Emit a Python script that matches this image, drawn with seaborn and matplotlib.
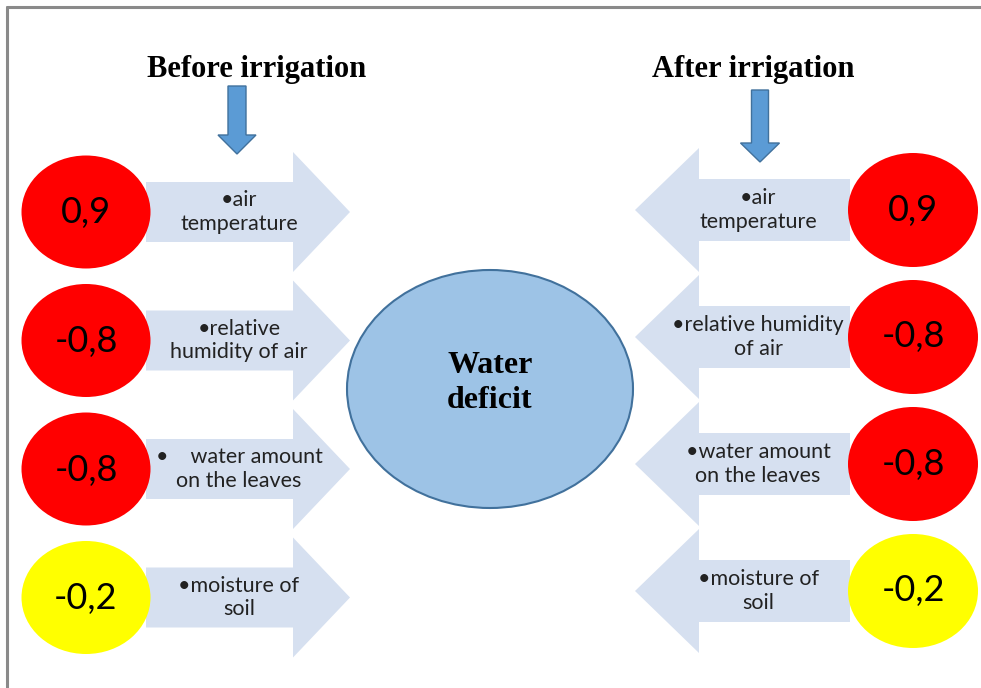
import matplotlib
matplotlib.use("Agg")
import matplotlib.pyplot as plt
from matplotlib.patches import Ellipse, Polygon
import seaborn as sns

# values
labels_before = ["•air\ntemperature", "•relative\nhumidity of air",
                 "•    water amount\non the leaves", "•moisture of\nsoil"]
labels_after = ["•air\ntemperature", "•relative humidity\nof air",
                "•water amount\non the leaves", "•moisture of\nsoil"]
r_before = [0.9, -0.8, -0.8, -0.2]
r_after = [0.9, -0.8, -0.8, -0.2]
titles = ["Before irrigation", "After irrigation"]
center_label = "Water\ndeficit"

sns.set_theme(style="white")
plt.rcParams['font.family'] = ['Lato', 'DejaVu Sans']

ARROW_FILL = "#d6e0f0"
BLUE = "#5b9bd5"
BLUE_EDGE = "#41719c"
SERIF = "Liberation Serif"


def fmt(v):
    return f"{v:.1f}".replace(".", ",")


def circle_color(v):
    return "#ff0000" if abs(v) >= 0.5 else "#ffff00"


def block_arrow(ax, yc, x_start, x_base, x_tip, hs, hh, **kw):
    pts = [(x_start, yc - hs), (x_base, yc - hs), (x_base, yc - hh), (x_tip, yc),
           (x_base, yc + hh), (x_base, yc + hs), (x_start, yc + hs)]
    ax.add_patch(Polygon(pts, closed=True, **kw))


def down_arrow(ax, xc, y_top, y_base, y_tip, hw_shaft, hw_head):
    pts = [(xc - hw_shaft, y_top), (xc + hw_shaft, y_top), (xc + hw_shaft, y_base),
           (xc + hw_head, y_base), (xc, y_tip), (xc - hw_head, y_base),
           (xc - hw_shaft, y_base)]
    ax.add_patch(Polygon(pts, closed=True, facecolor=BLUE, edgecolor=BLUE_EDGE, lw=1))


fig = plt.figure(figsize=(9.81, 6.88), dpi=100)
ax = fig.add_axes([0, 0, 1, 1])
ax.set_xlim(0, 981)
ax.set_ylim(688, 0)
ax.axis("off")

# frame
ax.plot([7, 981], [7, 7], color="#8a8a8a", lw=2.2)
ax.plot([7, 7], [7, 688], color="#8a8a8a", lw=2.2)

# titles and small arrows
ax.text(257, 70, titles[0], ha="center", va="center", fontsize=22,
        fontweight="bold", family=SERIF, color="black")
ax.text(753, 70, titles[1], ha="center", va="center", fontsize=22,
        fontweight="bold", family=SERIF, color="black")
down_arrow(ax, 237, 86, 135, 154, 9, 19)
down_arrow(ax, 760, 90, 143, 162, 8.5, 19.5)

# left side: factors before irrigation
for i, (lab, v) in enumerate(zip(labels_before, r_before)):
    yc = 212 + 128.5 * i
    block_arrow(ax, yc, 146, 293, 350, 30, 60, facecolor=ARROW_FILL, edgecolor="none")
    ax.add_patch(Ellipse((86, yc), 129, 113, facecolor=circle_color(v), edgecolor="none"))
    ax.text(86, yc + 1, fmt(v), ha="center", va="center", fontsize=26, color="black")
    ax.text(239, yc, lab, ha="center", va="center", fontsize=15.5,
            linespacing=1.2, color="#222222")

# right side: factors after irrigation
for i, (lab, v) in enumerate(zip(labels_after, r_after)):
    yc = 210 + 127 * i
    block_arrow(ax, yc, 850, 699, 635, 31, 62, facecolor=ARROW_FILL, edgecolor="none")
    ax.add_patch(Ellipse((913, yc), 130, 114, facecolor=circle_color(v), edgecolor="none"))
    ax.text(913, yc, fmt(v), ha="center", va="center", fontsize=26, color="black")
    ax.text(758, yc, lab, ha="center", va="center", fontsize=15.5,
            linespacing=1.25, color="#222222")

# central node
ax.add_patch(Ellipse((490, 389), 286, 238, facecolor="#9dc3e6", edgecolor=BLUE_EDGE, lw=1.5))
ax.text(490, 383, center_label, ha="center", va="center", fontsize=23,
        fontweight="bold", family=SERIF, linespacing=1.3, color="black")

fig.savefig("out.png", dpi=100)
